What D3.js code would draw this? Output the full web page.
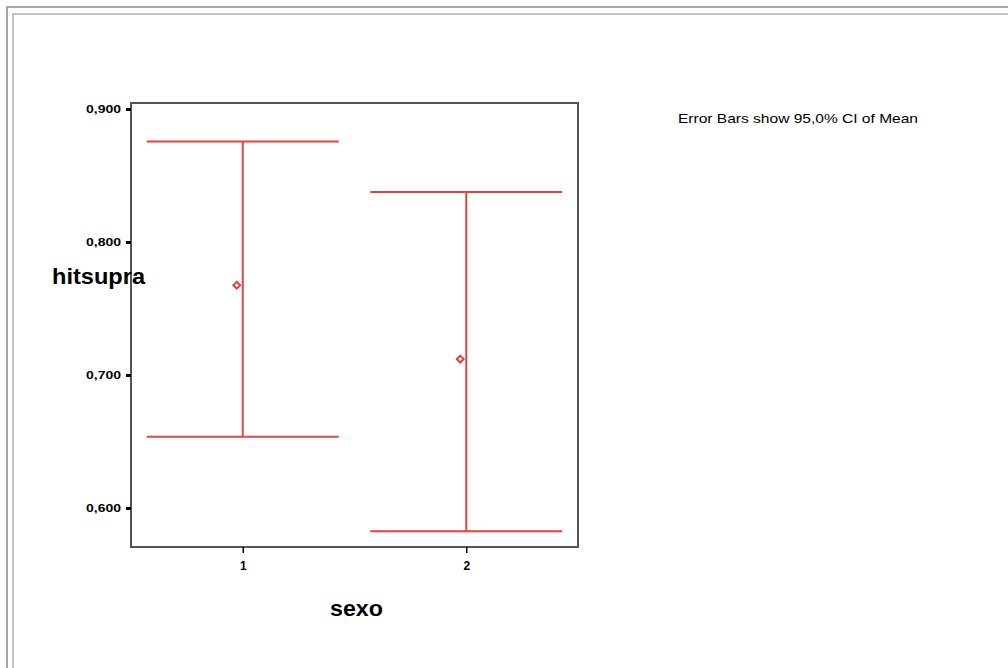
<!DOCTYPE html>
<html><head><meta charset="utf-8">
<script src="https://cdn.jsdelivr.net/npm/d3@7"></script>
<style>body{margin:0;background:#fff}svg{display:block}</style>
</head><body>
<svg id="c" width="1008" height="668"></svg>
<script>
const categories = ["1", "2"];
const means = [0.7675, 0.712];
const lowerCI = [0.6535, 0.5825];
const upperCI = [0.8755, 0.8375];
const yTicks = [0.6, 0.7, 0.8, 0.9];
const yTickLabels = ["0,600", "0,700", "0,800", "0,900"];
const note = "Error Bars show 95,0% CI of Mean";

const svg = d3.select("#c");
const red = "#e0453f";
const font = "Arial, Liberation Sans, sans-serif";
// outer frames
svg.append("rect").attr("x",7).attr("y",7).attr("width",1100).attr("height",800)
  .attr("fill","none").attr("stroke","#8a8a8a").attr("stroke-width",1.5);
svg.append("rect").attr("x",13).attr("y",14).attr("width",1100).attr("height",800)
  .attr("fill","none").attr("stroke","#b0b0b0").attr("stroke-width",1.5);

const L=131, T=103, R=578, B=547;
const y = d3.scaleLinear().domain([0.5707, 0.9045]).range([B, T]);
const x = d3.scalePoint().domain(categories).range([L, R]).padding(0.5);

// plot box
svg.append("rect").attr("x",L).attr("y",T).attr("width",R-L).attr("height",B-T)
  .attr("fill","none").attr("stroke","#555").attr("stroke-width",2);

const yAxis = svg.append("g").attr("transform",`translate(${L},0)`)
  .call(d3.axisLeft(y).tickValues(yTicks).tickFormat((d,i)=>yTickLabels[i]).tickSize(5).tickSizeOuter(0));
yAxis.select(".domain").remove();
yAxis.selectAll(".tick line").attr("stroke","#000").attr("stroke-width",3);
yAxis.selectAll(".tick text").attr("font-family",font)
  .attr("font-size",11).attr("font-weight","bold").attr("fill","#000")
  .attr("x",-10).attr("textLength",35).attr("lengthAdjust","spacingAndGlyphs");

const xAxis = svg.append("g").attr("transform",`translate(0,${B})`)
  .call(d3.axisBottom(x).tickSize(6).tickSizeOuter(0));
xAxis.select(".domain").remove();
xAxis.selectAll(".tick line").attr("stroke","#000").attr("stroke-width",1.5);
xAxis.selectAll(".tick text").attr("font-family",font).attr("font-weight","bold")
  .attr("font-size",12).attr("fill","#000").attr("dy","1.2em");

const capHalf = 96;
const g = svg.append("g");
categories.forEach((c,i)=>{
  const cx = x(c);
  g.append("line").attr("x1",cx).attr("x2",cx).attr("y1",y(upperCI[i])).attr("y2",y(lowerCI[i]))
    .attr("stroke",red).attr("stroke-width",2);
  [upperCI[i], lowerCI[i]].forEach(v=>{
    g.append("line").attr("x1",cx-capHalf).attr("x2",cx+capHalf).attr("y1",y(v)).attr("y2",y(v))
      .attr("stroke",red).attr("stroke-width",2);
  });
  g.append("path").attr("d",d3.symbol(d3.symbolDiamond2 ? d3.symbolDiamond2 : d3.symbolDiamond, 30)())
    .attr("transform",`translate(${cx-6},${y(means[i])})`)
    .attr("fill","#fff").attr("stroke",red).attr("stroke-width",2);
});

svg.append("text").attr("x",52).attr("y",284).text("hitsupra")
  .attr("font-family",font).attr("font-size",22).attr("font-weight","bold")
  .attr("textLength",93).attr("lengthAdjust","spacingAndGlyphs");
svg.append("text").attr("x",330).attr("y",616).text("sexo")
  .attr("font-family",font).attr("font-size",22).attr("font-weight","bold")
  .attr("textLength",53).attr("lengthAdjust","spacingAndGlyphs");
svg.append("text").attr("x",678).attr("y",123).text(note)
  .attr("font-family",font).attr("font-size",13)
  .attr("textLength",240).attr("lengthAdjust","spacingAndGlyphs");
</script>
</body></html>
